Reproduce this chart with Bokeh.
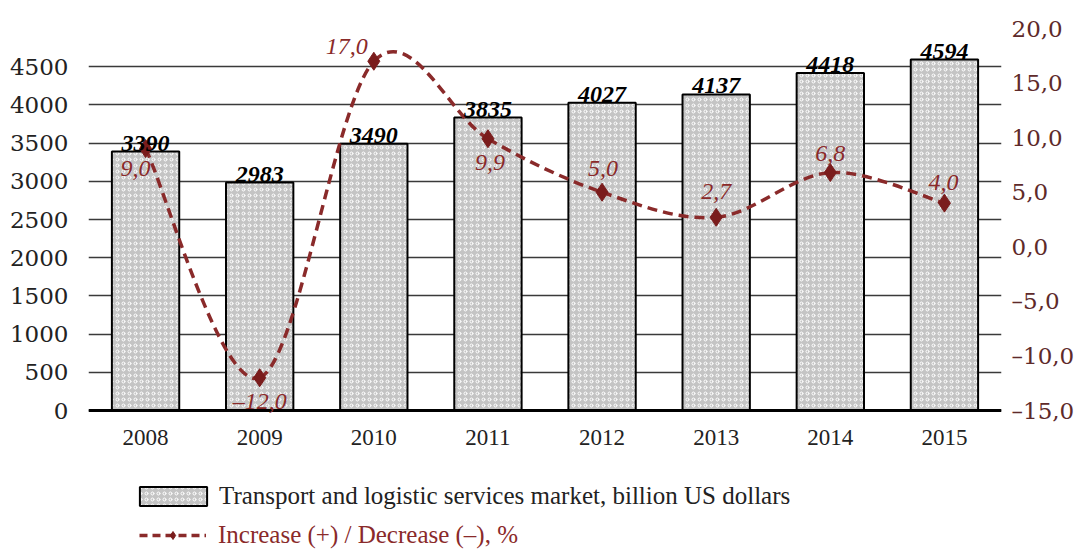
from bokeh.plotting import figure
from bokeh.models import (ColumnDataSource, Range1d, LinearAxis, FixedTicker, LabelSet,
                          Legend, LegendItem, Span)
from bokeh.embed import file_html
from bokeh.resources import INLINE

# ---- data ----
years = ["2008", "2009", "2010", "2011", "2012", "2013", "2014", "2015"]
market = [3390, 2983, 3490, 3835, 4027, 4137, 4418, 4594]
change = [9.0, -12.0, 17.0, 9.9, 5.0, 2.7, 6.8, 4.0]
left_ticks = [0, 500, 1000, 1500, 2000, 2500, 3000, 3500, 4000, 4500, 5000]
right_ticks = [-15, -10, -5, 0, 5, 10, 15, 20]
left_max, right_min, right_max = 5000, -15, 20

# label offsets (style only)
pct_dx = [-10, 0, -27, 2, 1, 0, 0, -1]
pct_dy = [-20, -23, 15, -24, 24, 26, 19, 21]

SERIF = "DejaVu Serif"
LSERIF = "Liberation Serif"
RED = "#8a2a2a"
xs = list(range(len(years)))

def fmt(v):
    s = f"{abs(v):.1f}".replace(".", ",")
    return ("\u2013" + s) if v < 0 else s

# layout geometry (pixels): frame runs from top=28 to bottom of page; value 0 sits 382px below top
W, H, TOP, PLOT_H = 1084, 549, 28, 382
below_frac = (H - TOP - PLOT_H) / PLOT_H
y_lo = -left_max * below_frac
pct_lo = right_min - (right_max - right_min) * below_frac

p = figure(width=W, height=H, output_backend="svg", toolbar_location=None,
           x_axis_type=None,
           x_range=Range1d(-0.5, len(years) - 0.5), y_range=Range1d(y_lo, left_max),
           min_border_left=88, min_border_right=83, min_border_top=TOP, min_border_bottom=0)
p.outline_line_color = None
p.background_fill_color = "white"
p.extra_y_ranges = {"pct": Range1d(pct_lo, right_max)}

# left axis
p.yaxis.ticker = FixedTicker(ticks=left_ticks)
p.yaxis.major_label_overrides = {5000: ""}
p.yaxis.axis_line_color = None
p.yaxis.major_tick_line_color = None
p.yaxis.minor_tick_line_color = None
p.yaxis.major_label_text_font = SERIF
p.yaxis.major_label_text_font_size = "23px"
p.yaxis.major_label_text_color = "#222222"
p.yaxis.major_label_standoff = 14

p.ygrid.grid_line_color = "#3a3a3a"
p.ygrid.grid_line_width = 1.6

# right axis
ra = LinearAxis(y_range_name="pct", ticker=FixedTicker(ticks=right_ticks))
ra.major_label_overrides = {t: fmt(t) for t in right_ticks}
ra.axis_line_color = None
ra.major_tick_line_color = None
ra.minor_tick_line_color = None
ra.major_label_text_font = SERIF
ra.major_label_text_font_size = "23px"
ra.major_label_text_color = "#5e2a2a"
ra.major_label_standoff = 4
p.add_layout(ra, "right")

# baseline (x axis line) and year labels
p.add_layout(Span(location=0, dimension="width", line_color="black", line_width=3))
ysrc = ColumnDataSource(dict(x=xs, y=[0] * len(xs), lbl=years))
p.add_layout(LabelSet(x="x", y="y", text="lbl", source=ysrc, y_offset=-27,
                      text_align="center", text_baseline="middle", text_font=SERIF,
                      text_font_size="23px", text_color="#222222"))

# bars
src = ColumnDataSource(dict(x=xs, top=market, lbl=[str(v) for v in market]))
bars = p.vbar(x="x", top="top", width=0.59, source=src, fill_color="#c4c4c4",
              hatch_pattern="ring", hatch_color="white", hatch_scale=6, hatch_weight=1,
              line_color="black", line_width=2)
p.add_layout(LabelSet(x="x", y="top", text="lbl", source=src, text_align="center",
                      text_baseline="bottom", y_offset=1, text_font=LSERIF,
                      text_font_size="24px", text_font_style="bold italic",
                      text_color="black"))

# smooth line via bezier segments (Catmull-Rom control points)
n = len(change)
x0, y0, x1, y1, cx0, cy0, cx1, cy1 = [], [], [], [], [], [], [], []
for i in range(n - 1):
    pi = (xs[i], change[i])
    pj = (xs[i + 1], change[i + 1])
    pm = (xs[i - 1], change[i - 1]) if i > 0 else pi
    pk = (xs[i + 2], change[i + 2]) if i + 2 < n else pj
    x0.append(pi[0]); y0.append(pi[1]); x1.append(pj[0]); y1.append(pj[1])
    cx0.append(pi[0] + (pj[0] - pm[0]) / 6); cy0.append(pi[1] + (pj[1] - pm[1]) / 6)
    cx1.append(pj[0] - (pk[0] - pi[0]) / 6); cy1.append(pj[1] - (pk[1] - pi[1]) / 6)
p.bezier(x0=x0, y0=y0, x1=x1, y1=y1, cx0=cx0, cy0=cy0, cx1=cx1, cy1=cy1,
         y_range_name="pct", line_color=RED, line_width=3.5, line_dash="10 6")
leg_line = p.line(x=[float("nan")], y=[float("nan")], line_color=RED, line_width=3.5,
                  line_dash="8 5", y_range_name="pct")
psrc = ColumnDataSource(dict(x=xs, y=change, lbl=[fmt(v) for v in change], dx=pct_dx, dy=pct_dy))
marks = p.scatter(x="x", y="y", source=psrc, marker="diamond", size=18, fill_color="#7a1c1c",
                  line_color="#7a1c1c", y_range_name="pct")
p.add_layout(LabelSet(x="x", y="y", text="lbl", source=psrc, x_offset="dx", y_offset="dy",
                      y_range_name="pct", text_align="center", text_baseline="middle",
                      text_font=LSERIF, text_font_size="24px", text_font_style="italic",
                      text_color=RED))

# legends
leg1 = Legend(items=[LegendItem(label="Transport and logistic services market, billion US dollars",
                                renderers=[bars])],
              location=(43, 39), glyph_width=84, glyph_height=24, label_standoff=4)
leg2 = Legend(items=[LegendItem(label="Increase (+) / Decrease (\u2013), %",
                                renderers=[leg_line, marks])],
              location=(51, 0), glyph_width=67, glyph_height=20, label_standoff=12)
for lg, col in ((leg1, "#222222"), (leg2, RED)):
    lg.orientation = "vertical"
    lg.label_text_font = LSERIF
    lg.label_text_font_style = "normal"
    lg.label_text_font_size = "25px"
    lg.label_text_color = col
    lg.border_line_color = None
    lg.background_fill_alpha = 0
    lg.padding = 4
    lg.margin = 0
    lg.label_height = 20
    p.add_layout(lg)

open("out.html", "w").write(file_html(p, INLINE))
